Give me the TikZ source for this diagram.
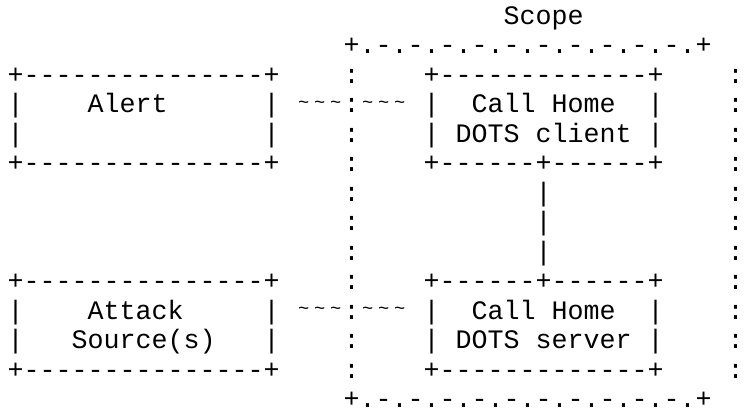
\documentclass[tikz,border=0pt]{standalone}
\usepackage{fontspec}
\usepackage{graphicx}
\setmonofont{Liberation Mono}
\newcommand\gp[1]{\hspace*{#1\fontcharwd\font`\x}}
\newcommand\tld{\makebox[\fontcharwd\font`\x]{\raisebox{0.18em}{\scalebox{0.7}{\char"7E\relax}}}}
\tikzset{
  art/.style={anchor=base west, inner sep=0pt, outer sep=0pt,
    font=\ttfamily\fontsize{26.66}{29.5}\selectfont, text=black}
}
\begin{document}
\begin{tikzpicture}[x=1pt,y=1pt]
\useasboundingbox (0,0) rectangle (744,411);
\def\xo{7.7}
\def\yo{386.5}
\node[art] (l0)  at (\xo,\yo)         {\gp{31}Scope};
\node[art] (l1)  at (\xo,\yo-29.5)    {\gp{21}+.-.-.-.-.-.-.-.-.-.-.+};
\node[art] (l2)  at (\xo,\yo-59)      {+---------------+\gp{4}:\gp{4}+-------------+\gp{4}:};
\node[art] (l3)  at (\xo,\yo-88.5)    {|\gp{4}Alert\gp{6}|\gp{1}\tld\tld\tld:\tld\tld\tld\gp{1}|\gp{2}Call\gp{1}Home\gp{2}|\gp{4}:};
\node[art] (l4)  at (\xo,\yo-118)     {|\gp{15}|\gp{4}:\gp{4}|\gp{1}DOTS\gp{1}client\gp{1}|\gp{4}:};
\node[art] (l5)  at (\xo,\yo-147.5)   {+---------------+\gp{4}:\gp{4}+------+------+\gp{4}:};
\node[art] (l6)  at (\xo,\yo-177)     {\gp{21}:\gp{11}|\gp{11}:};
\node[art] (l7)  at (\xo,\yo-206.5)   {\gp{21}:\gp{11}|\gp{11}:};
\node[art] (l8)  at (\xo,\yo-236)     {\gp{21}:\gp{11}|\gp{11}:};
\node[art] (l9)  at (\xo,\yo-265.5)   {+---------------+\gp{4}:\gp{4}+------+------+\gp{4}:};
\node[art] (l10) at (\xo,\yo-295)     {|\gp{4}Attack\gp{5}|\gp{1}\tld\tld\tld:\tld\tld\tld\gp{1}|\gp{2}Call\gp{1}Home\gp{2}|\gp{4}:};
\node[art] (l11) at (\xo,\yo-324.5)   {|\gp{3}Source(s)\gp{3}|\gp{4}:\gp{4}|\gp{1}DOTS\gp{1}server\gp{1}|\gp{4}:};
\node[art] (l12) at (\xo,\yo-354)     {+---------------+\gp{4}:\gp{4}+-------------+\gp{4}:};
\node[art] (l13) at (\xo,\yo-383.5)   {\gp{21}+.-.-.-.-.-.-.-.-.-.-.+};
\end{tikzpicture}
\end{document}
